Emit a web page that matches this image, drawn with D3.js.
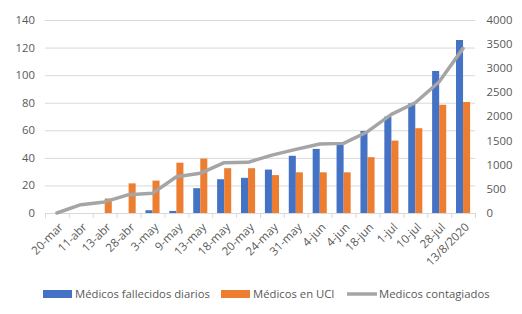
<!DOCTYPE html>
<html><head><meta charset="utf-8">
<script src="https://cdn.jsdelivr.net/npm/d3@7"></script>
<style>
body{margin:0;background:#fff;}
svg text{font-family:"Open Sans",sans-serif;fill:#595959;}
</style></head>
<body><svg id="c" width="522" height="314"></svg>
<script>
const categories = ["20-mar","11-abr","13-abr","28-abr","3-may","9-may","13-may","18-may","20-may","24-may","31-may","4-jun","4-jun","18-jun","1-jul","10-jul","28-jul","13/8/2020"];
const fallecidos = [0,0,0,0,2,1.5,18,24.5,25.5,31.5,41.5,46.5,50,59.5,70,79.5,103,125.5];
const uci = [0,0,10.5,21.5,23.5,36.5,39.5,32.5,32.5,27.5,29.5,29.5,29.5,40.5,52.5,61.5,78.5,80.5];
const contagiados = [0,172,230,380,408,752,822,1043,1050,1200,1318,1430,1443,1685,2044,2285,2720,3412];
const leftTicks = [0,20,40,60,80,100,120,140];
const rightTicks = [0,500,1000,1500,2000,2500,3000,3500,4000];
const seriesNames = ["Médicos fallecidos diarios","Médicos en UCI","Medicos contagiados"];
const colors = ["#4472C4","#ED7D31","#A5A5A5"];

const FS = "11.3px";
const svg = d3.select("#c");
const L = 45, R = 475, T = 20, B = 213;
const x = d3.scaleBand().domain(d3.range(categories.length)).range([L,R]).paddingInner(0.41).paddingOuter(0.205);
const step = x.step();
const x1 = d3.scaleBand().domain([0,1]).range([0,x.bandwidth()]);
const yL = d3.scaleLinear().domain([0,140]).range([B,T]);
const yR = d3.scaleLinear().domain([0,4000]).range([B,T]);

// gridlines
svg.append("g").selectAll("line").data(leftTicks.slice(1)).join("line")
  .attr("x1",L).attr("x2",R).attr("y1",d=>yL(d)+0.5).attr("y2",d=>yL(d)+0.5)
  .attr("stroke","#d9d9d9").attr("stroke-width",1);

// left axis labels
svg.append("g").selectAll("text").data(leftTicks).join("text")
  .attr("x",35).attr("y",d=>yL(d)).attr("dy","0.35em").attr("text-anchor","end")
  .attr("font-size",FS).text(d=>d);
// right axis labels
svg.append("g").selectAll("text").data(rightTicks).join("text")
  .attr("x",486.5).attr("y",d=>yR(d)).attr("dy","0.35em").attr("text-anchor","start")
  .attr("font-size",FS).text(d=>d);

// bars
const data = [fallecidos, uci];
data.forEach((arr,si)=>{
  svg.append("g").selectAll("rect").data(arr).join("rect")
    .attr("x",(d,i)=>x(i)+x1(si)).attr("width",x1.bandwidth())
    .attr("y",d=>yL(d)).attr("height",d=>B-yL(d)).attr("fill",colors[si]);
});

// x axis line and ticks
svg.append("line").attr("x1",L).attr("x2",R).attr("y1",B+0.5).attr("y2",B+0.5).attr("stroke","#d9d9d9");
svg.append("g").selectAll("line").data(d3.range(categories.length+1)).join("line")
  .attr("x1",i=>L+i*step+0.5).attr("x2",i=>L+i*step+0.5).attr("y1",B).attr("y2",B+5).attr("stroke","#d9d9d9");

// line
const line = d3.line().x((d,i)=>x(i)+x.bandwidth()/2).y(d=>yR(d));
svg.append("path").datum(contagiados).attr("d",line).attr("fill","none")
  .attr("stroke",colors[2]).attr("stroke-width",3.5).attr("stroke-linejoin","round").attr("stroke-linecap","round");

// x labels
svg.append("g").selectAll("text").data(categories).join("text")
  .attr("transform",(d,i)=>`translate(${x(i)+x.bandwidth()/2+4},${B+12}) rotate(-45)`)
  .attr("text-anchor","end").attr("dy","0.35em").attr("font-size","11.6px").text(d=>d);

// legend
const lg = svg.append("g");
const ly = 294;
lg.append("rect").attr("x",43).attr("y",ly-4).attr("width",29).attr("height",8).attr("fill",colors[0]);
lg.append("text").attr("x",75).attr("y",ly).attr("dy","0.35em").attr("font-size",FS).text(seriesNames[0]);
lg.append("rect").attr("x",221).attr("y",ly-4).attr("width",29).attr("height",8).attr("fill",colors[1]);
lg.append("text").attr("x",253).attr("y",ly).attr("dy","0.35em").attr("font-size",FS).text(seriesNames[1]);
lg.append("line").attr("x1",347).attr("x2",377).attr("y1",ly).attr("y2",ly).attr("stroke",colors[2]).attr("stroke-width",3.5);
lg.append("text").attr("x",379).attr("y",ly).attr("dy","0.35em").attr("font-size",FS).text(seriesNames[2]);
</script></body></html>
